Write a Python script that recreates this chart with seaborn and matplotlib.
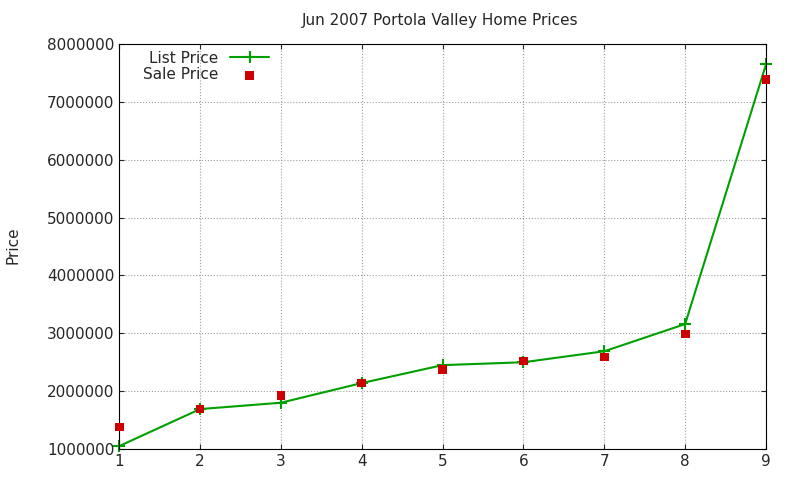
import numpy as np
import pandas as pd
import seaborn as sns
import matplotlib
matplotlib.use('Agg')
import matplotlib.pyplot as plt

house = [1, 2, 3, 4, 5, 6, 7, 8, 9]
list_price = [1050000, 1690000, 1800000, 2140000, 2450000, 2500000, 2690000, 3160000, 7650000]
sale_price = [1380000, 1690000, 1930000, 2140000, 2380000, 2520000, 2590000, 2990000, 7390000]

df = pd.DataFrame({'house': house, 'list': list_price, 'sale': sale_price})

sns.set_style('ticks')
plt.rcParams['font.family'] = ['DejaVu Sans']
fig = plt.figure(figsize=(8, 4.8), dpi=100)
ax = fig.add_axes([0.149, 0.0646, 0.8085, 0.8434])

sns.lineplot(data=df, x='house', y='list', ax=ax, color='#00a000', lw=1.5,
             marker='+', markersize=9, markeredgewidth=1.5,
             markeredgecolor='#00a000', label='List Price', clip_on=False)
sns.scatterplot(data=df, x='house', y='sale', ax=ax, color='#cc0000', marker='s',
                s=40, edgecolor='none', label='Sale Price', zorder=3, clip_on=False)

ax.set_xlim(1, 9)
ax.set_ylim(1000000, 8000000)
ax.set_xticks(range(1, 10))
ax.set_yticks(range(1000000, 8000001, 1000000))
ax.ticklabel_format(axis='y', style='plain')
ax.grid(True, color='#a0a0a0', linestyle=':', linewidth=0.8)
ax.tick_params(direction='in', labelsize=11, top=True, right=True)
for s in ax.spines.values():
    s.set_color('black')
    s.set_linewidth(0.8)
ax.set_xlabel('')
ax.set_ylabel('')
fig.text(0.016, 0.49, 'Price', rotation=90, ha='center', va='center', fontsize=11)
fig.text(0.55, 0.958, 'Jun 2007 Portola Valley Home Prices', ha='center', va='center', fontsize=11)

leg = ax.legend(loc='upper left', bbox_to_anchor=(0.02, 1.01), frameon=False,
                markerfirst=False, fontsize=11, handlelength=2.5,
                labelspacing=0.1, borderaxespad=0.3)
for t in leg.get_texts():
    t.set_ha('right')
for h in leg.legend_handles:
    h.set_linestyle('-') if hasattr(h, 'set_linestyle') and h.get_label() == 'List Price' else None

fig.savefig('out.png', dpi=100)
